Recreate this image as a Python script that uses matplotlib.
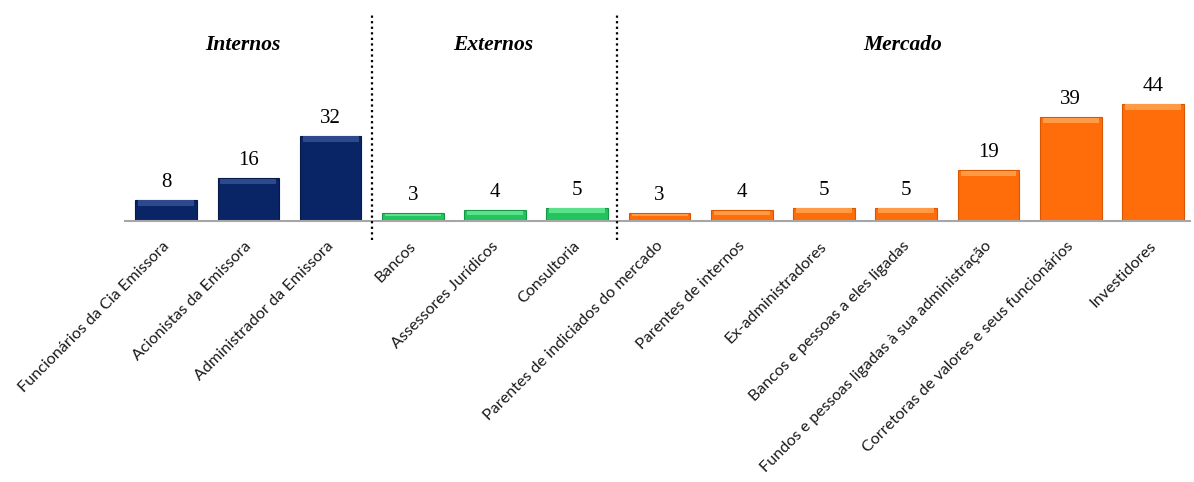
import matplotlib.pyplot as plt
import numpy as np

# categorias e quantidades por grupo
internos = ['Funcionários da Cia Emissora', 'Acionistas da Emissora', 'Administrador da Emissora']
internos_val = [8, 16, 32]
externos = ['Bancos', 'Assessores Jurídicos', 'Consultoria']
externos_val = [3, 4, 5]
mercado = ['Parentes de indiciados do mercado', 'Parentes de internos', 'Ex-administradores',
           'Bancos e pessoas a eles ligadas', 'Fundos e pessoas ligadas à sua administração',
           'Corretoras de valores e seus funcionários', 'Investidores']
mercado_val = [3, 4, 5, 5, 19, 39, 44]

grupos = ['Internos', 'Externos', 'Mercado']

cores = ['#0a2566', '#22c45c', '#ff6c0a']
cores_topo = ['#2c4a8c', '#5be08c', '#ff9a45']
cores_borda = ['#061a4a', '#159645', '#d95500']

labels = internos + externos + mercado
valores = internos_val + externos_val + mercado_val
grupo_idx = [0] * len(internos) + [1] * len(externos) + [2] * len(mercado)

fig = plt.figure(figsize=(11.94, 4.82), dpi=100)
ax = fig.add_axes([125 / 1194, 261 / 482, 1065 / 1194, 133 / 482])

x = np.arange(len(labels))
for i, (v, g) in enumerate(zip(valores, grupo_idx)):
    ax.bar(x[i], v, width=0.75, color=cores[g], edgecolor=cores_borda[g], linewidth=0.8, zorder=2)
    # faixa clara no topo da barra (efeito bisel)
    h = min(v * 0.35, 2.0)
    ax.bar(x[i], h, bottom=v - h - 0.2, width=0.68, color=cores_topo[g], linewidth=0, zorder=3)
    ax.text(x[i], v + 3.0, str(v), ha='center', va='bottom', fontsize=15,
            family='Liberation Serif', color='black')

ax.set_xlim(-0.5, 12.45)
ax.set_ylim(0, 50)
ax.axhline(0, color='#a6a6a6', linewidth=1.5, zorder=4, clip_on=False)

for s in ax.spines.values():
    s.set_visible(False)
ax.set_yticks([])
ax.set_xticks(x - 0.05)
ax.set_xticklabels(labels, rotation=45, ha='right', rotation_mode='anchor',
                   fontsize=11.6, family='Lato', color='#1a1a1a')
ax.tick_params(axis='x', length=0, pad=13)

# separadores pontilhados entre os grupos
for xs in [2.505, 5.485]:
    ax.plot([xs, xs], [-7.3, 78], color='black', linestyle=(0, (1, 1.5)), linewidth=1.6,
            clip_on=False, zorder=5)

# titulos dos grupos
centros = [0.935, 3.98, 8.96]
for nome, cx in zip(grupos, centros):
    ax.text(cx, 66, nome, ha='center', va='center', fontsize=15.5, fontweight='bold',
            fontstyle='italic', family='Liberation Serif', clip_on=False)

fig.savefig('out.png', dpi=100)
